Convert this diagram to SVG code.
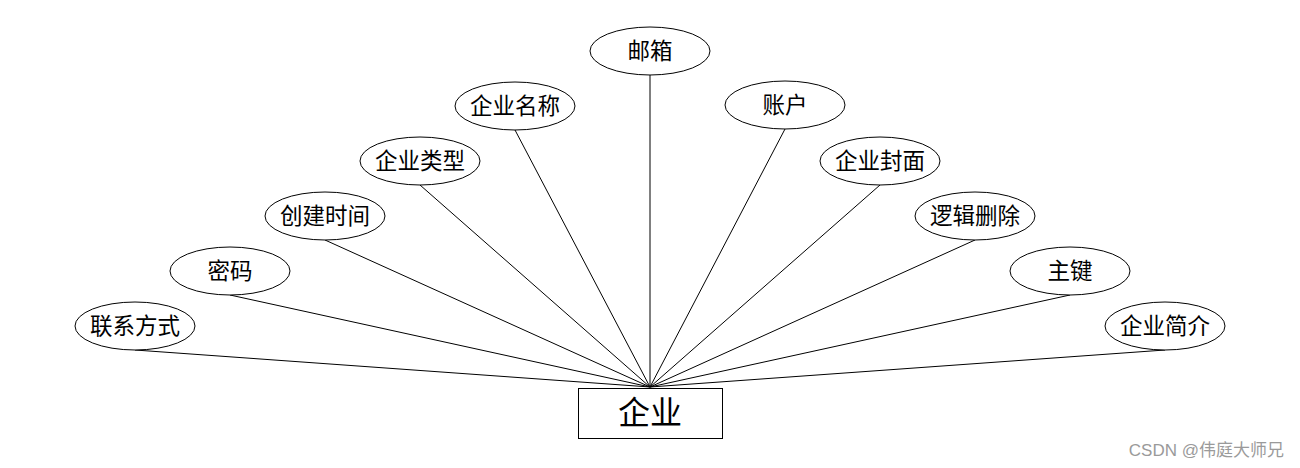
<svg xmlns="http://www.w3.org/2000/svg" width="1300" height="468" viewBox="0 0 1300 468">
<style>
.e{fill:#fff;stroke:#000;stroke-width:1}
.t{font-family:"Liberation Sans","Noto Sans CJK SC",sans-serif;font-size:22.500px;fill:#000;text-anchor:middle;dominant-baseline:central}
.c line{stroke:#000;stroke-width:1}
</style>
<rect width="1300" height="468" fill="#fff"/>
<g class="c" id="connectors">
<line x1="135" y1="350" x2="650" y2="387"/>
<line x1="230" y1="295" x2="650" y2="387"/>
<line x1="325" y1="240" x2="650" y2="387"/>
<line x1="420" y1="185" x2="650" y2="387"/>
<line x1="515" y1="130" x2="650" y2="387"/>
<line x1="650" y1="75" x2="650" y2="387"/>
<line x1="785" y1="129" x2="650" y2="387"/>
<line x1="880" y1="185" x2="650" y2="387"/>
<line x1="975" y1="240" x2="650" y2="387"/>
<line x1="1070" y1="295" x2="650" y2="387"/>
<line x1="1165" y1="350" x2="650" y2="387"/>
</g>
<g id="entity"><rect x="578.500" y="388.500" width="144" height="50" fill="#fff" stroke="#000"/><text class="t" x="650" y="413" style="font-size:32px">企业</text></g>
<g id="a1"><ellipse class="e" cx="135" cy="326" rx="60" ry="24"/><text class="t" x="135" y="326">联系方式</text></g>
<g id="a2"><ellipse class="e" cx="230" cy="271" rx="60" ry="24"/><text class="t" x="230" y="271">密码</text></g>
<g id="a3"><ellipse class="e" cx="325" cy="216" rx="60" ry="24"/><text class="t" x="325" y="216">创建时间</text></g>
<g id="a4"><ellipse class="e" cx="420" cy="161" rx="60" ry="24"/><text class="t" x="420" y="161">企业类型</text></g>
<g id="a5"><ellipse class="e" cx="515" cy="106" rx="60" ry="24"/><text class="t" x="515" y="106">企业名称</text></g>
<g id="a6"><ellipse class="e" cx="650" cy="51" rx="60" ry="24"/><text class="t" x="650" y="51">邮箱</text></g>
<g id="a7"><ellipse class="e" cx="785" cy="105" rx="60" ry="24"/><text class="t" x="785" y="105">账户</text></g>
<g id="a8"><ellipse class="e" cx="880" cy="161" rx="60" ry="24"/><text class="t" x="880" y="161">企业封面</text></g>
<g id="a9"><ellipse class="e" cx="975" cy="216" rx="60" ry="24"/><text class="t" x="975" y="216">逻辑删除</text></g>
<g id="a10"><ellipse class="e" cx="1070" cy="271" rx="60" ry="24"/><text class="t" x="1070" y="271">主键</text></g>
<g id="a11"><ellipse class="e" cx="1165" cy="326" rx="60" ry="24"/><text class="t" x="1165" y="326">企业简介</text></g>
<text x="1284" y="456" style="font-family:'Liberation Sans','Noto Sans CJK SC',sans-serif;font-size:17px;fill:#9a9a9a;text-anchor:end">CSDN @伟庭大师兄</text>
</svg>
